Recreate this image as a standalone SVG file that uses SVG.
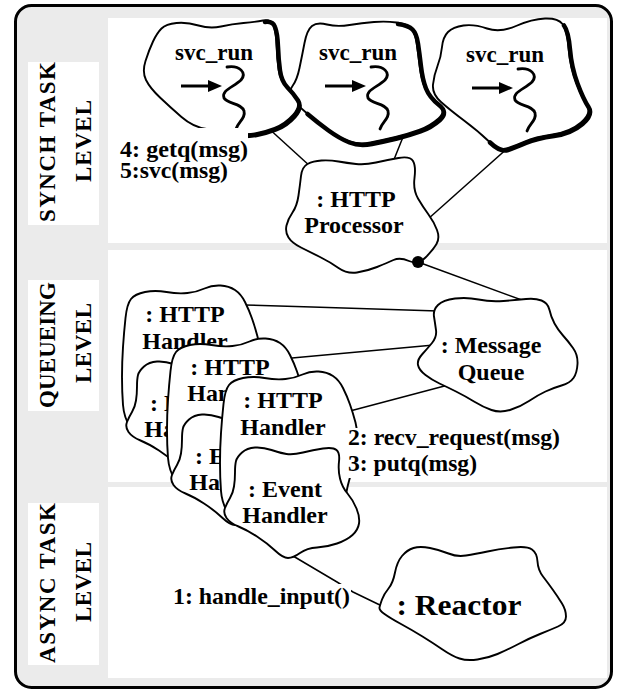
<svg xmlns="http://www.w3.org/2000/svg" xmlns:xlink="http://www.w3.org/1999/xlink" width="618" height="692" viewBox="0 0 618 692">
<style>
.cloud{fill:#fff;stroke:#000;stroke-width:1.9;stroke-linejoin:round}
.shadow{fill:none;stroke:#000;stroke-width:4.5;stroke-linecap:round;stroke-linejoin:round}
.conn{fill:none;stroke:#000;stroke-width:1.5}
.t{font-family:"Liberation Serif","Times New Roman",serif;font-weight:bold;font-size:24px;fill:#000}
.lvl{font-family:"Liberation Serif","Times New Roman",serif;font-weight:bold;font-size:23px;fill:#000}
.panel{fill:#fff}
.bg{fill:#fff}
</style>
<defs>
<g id="svc-inner">
<path d="M227,67 C240,65 247,73 241,80 C234,87 221,90 224,98 C227,104 242,103 244,111 C246,118 238,122 236,129" fill="none" stroke="#000" stroke-width="2.8" stroke-linecap="round"/>
<line x1="181" y1="86" x2="211" y2="86" stroke="#000" stroke-width="3"/>
<polygon points="208,80 222,86 208,92" fill="#000"/>
</g>
<path id="h-outer" class="cloud" d="M-19.5,-4 Q-18,-18 -14,-23 Q-10,-28 0,-30 Q10,-32 21.5,-30 Q33,-28 42.5,-29 Q52,-30 59.5,-33.5 Q67,-37 75.5,-36.5 Q84,-36 90,-32 Q96,-28 100,-20 Q104,-12 107,-3.5 Q110,5 112.5,14.5 Q115,24 114,35 Q113,46 110.5,56 Q108,66 106,73 Q104,80 102,92.5 Q100,105 85,117.5 Q70,130 50,129 Q30,128 11,121.5 Q-8,115 -14.5,105.5 Q-21,96 -22,83 Q-23,70 -23,55 Q-23,40 -22,25 Q-21,10 -19.5,-4 Z"/>
<path id="h-inner" class="cloud" d="M-7,53 Q-6,49 -1,44.5 Q4,40 12,39.5 Q20,39 28.5,42 Q37,45 43.5,46 Q50,47 60,44.5 Q70,42 80,40.5 Q90,39 93.5,42 Q97,45 96,53.5 Q95,62 97,70.5 Q99,79 104.5,85.5 Q110,92 113.5,100.5 Q117,109 116,115.5 Q115,122 109.5,127 Q104,132 94,135.5 Q84,139 74,139.5 Q64,140 57,145 Q50,150 45,150 Q40,150 32,142.5 Q24,135 14,128.5 Q4,122 -4.5,118.5 Q-13,115 -16.5,110 Q-20,105 -18,100 Q-16,95 -13,90 Q-10,85 -9,78.5 Q-8,72 -8,64.5 Q-8,57 -7,53 Z"/>
</defs>

<g id="background">
<rect x="15.5" y="5.5" width="596" height="682" rx="16" fill="#ebebeb" stroke="#000" stroke-width="3"/>
<rect class="panel" x="108" y="18" width="499" height="225"/>
<rect class="panel" x="108" y="250" width="499" height="232"/>
<rect class="panel" x="108" y="487" width="499" height="191"/>
<rect class="panel" x="28" y="62" width="71" height="163"/>
<rect class="panel" x="28" y="280" width="71" height="131"/>
<rect class="panel" x="28" y="503" width="71" height="162"/>
</g>

<g id="level-labels">
<text class="lvl" x="55" y="142" transform="rotate(-90 55 142)" text-anchor="middle" textLength="160" lengthAdjust="spacing">SYNCH TASK</text>
<text class="lvl" x="91" y="141" transform="rotate(-90 91 141)" text-anchor="middle" textLength="82" lengthAdjust="spacing">LEVEL</text>
<text class="lvl" x="55" y="345" transform="rotate(-90 55 345)" text-anchor="middle" textLength="126" lengthAdjust="spacing">QUEUEING</text>
<text class="lvl" x="91" y="343" transform="rotate(-90 91 343)" text-anchor="middle" textLength="80" lengthAdjust="spacing">LEVEL</text>
<text class="lvl" x="55" y="583" transform="rotate(-90 55 583)" text-anchor="middle" textLength="160" lengthAdjust="spacing">ASYNC TASK</text>
<text class="lvl" x="91" y="582" transform="rotate(-90 91 582)" text-anchor="middle" textLength="80" lengthAdjust="spacing">LEVEL</text>
</g>

<g id="connectors">
<line class="conn" x1="266" y1="126" x2="311" y2="167"/>
<line class="conn" x1="405" y1="132" x2="393" y2="162"/>
<line class="conn" x1="510" y1="146" x2="428" y2="219"/>
<line class="conn" x1="418" y1="262" x2="530" y2="303"/>
<polyline class="conn" points="244,305 312,307 438,311"/>
<line class="conn" x1="292" y1="358" x2="434" y2="345"/>
<line class="conn" x1="350" y1="411" x2="452" y2="384"/>
<polyline class="conn" points="288,553 337,582 353,592 384,607"/>
</g>

<g id="svc-run-3">
<path class="cloud" d="M442,47 Q443,37 448,32 Q453,27 463.5,25.5 Q474,24 487,28.5 Q500,33 516,26 Q532,19 545,18.5 Q558,18 562.5,24 Q567,30 568.5,48 Q570,66 576,82 Q582,98 587,105.5 Q592,113 581,122.5 Q570,132 552.5,134.5 Q535,137 524.5,141.5 Q514,146 506.5,148.5 Q499,151 488.5,141 Q478,131 464,120.5 Q450,110 441,102 Q432,94 433,84.5 Q434,75 437.5,66 Q441,57 442,47 Z"/>
<path class="shadow" d="M564,25.5 Q568.5,31.5 570,49.5 Q571.5,67.5 577.5,83.5 Q583.5,99.5 588.5,107 Q593.5,114.5 582.5,124 Q571.5,133.5 554,136 Q536.5,138.5 526,143 Q515.5,147.5 508,150 Q500.5,152.5 490,142.5"/>
<text class="t" x="505" y="62" text-anchor="middle" textLength="78" lengthAdjust="spacingAndGlyphs">svc_run</text>
<use href="#svc-inner" xlink:href="#svc-inner" transform="translate(291,2)"/>
</g>

<g id="svc-run-2">
<path class="cloud" d="M304.5,43 Q307,30 312,26 Q317,22 327,24.5 Q337,27 349.5,25 Q362,23 374,22 Q386,21 396.5,22.5 Q407,24 411,28 Q415,32 416.5,42 Q418,52 419.5,65 Q421,78 424.5,87 Q428,96 437.5,103.5 Q447,111 438.5,118.5 Q430,126 419,130 Q408,134 395.5,137 Q383,140 370.5,142.5 Q358,145 348,141 Q338,137 327,129 Q316,121 306,112.5 Q296,104 292,98 Q288,92 292.5,86 Q297,80 299.5,68 Q302,56 304.5,43 Z"/>
<path class="shadow" d="M398,24 Q408.5,25.5 412.5,29.5 Q416.5,33.5 418,43.5 Q419.5,53.5 421,66.5 Q422.5,79.5 426,88.5 Q429.5,97.5 439,105 Q448.5,112.5 440,120 Q431.5,127.5 420.5,131.5 Q409.5,135.5 397,138.5 Q384.5,141.5 372,144 Q359.5,146.5 349.5,142.5 Q339.5,138.5 328.5,130.5 Q317.5,122.5 307.5,114"/>
<text class="t" x="358" y="60" text-anchor="middle" textLength="78" lengthAdjust="spacingAndGlyphs">svc_run</text>
<use href="#svc-inner" xlink:href="#svc-inner" transform="translate(144,0)"/>
</g>

<g id="svc-run-1">
<path class="cloud" d="M153,41.5 Q157,33 161.5,28.5 Q166,24 176.5,23 Q187,22 198.5,25.5 Q210,29 221,26.5 Q232,24 243.5,23 Q255,22 263,20.5 Q271,19 273.5,25.5 Q276,32 276.5,45 Q277,58 278.5,69 Q280,80 286,86 Q292,92 296.5,99 Q301,106 293,115 Q285,124 274.5,128 Q264,132 255,133.5 Q246,135 233,133 Q220,131 206.5,129 Q193,127 181.5,117 Q170,107 160,97.5 Q150,88 146,80 Q142,72 145.5,61 Q149,50 153,41.5 Z"/>
<path class="shadow" d="M265,22 Q273,21 275,27 Q277.5,33.5 278,46.5 Q278.5,59.5 280,70.5 Q281.5,81.5 287.5,87.5 Q293.5,93.5 298,100.5 Q302.5,107.5 294.5,116.5 Q286.5,125.5 276,129.5 Q265.5,133.5 256.5,135 Q247.5,136.5 240,136"/>
<text class="t" x="214" y="60" text-anchor="middle" textLength="78" lengthAdjust="spacingAndGlyphs">svc_run</text>
<use href="#svc-inner" xlink:href="#svc-inner"/>
</g>

<g id="http-processor">
<path class="cloud" d="M301,176 Q302,167 307.5,164 Q313,161 321.5,160.5 Q330,160 338.5,161.5 Q347,163 356,164 Q365,165 376,162.5 Q387,160 398.5,158 Q410,156 413,161 Q416,166 414.5,178 Q413,190 418,198.5 Q423,207 428.5,214.5 Q434,222 437,230 Q440,238 436.5,244 Q433,250 425.5,257.5 Q418,265 409,261 Q400,257 393.5,260 Q387,263 377,267 Q367,271 357,272.5 Q347,274 338.5,268 Q330,262 320,257 Q310,252 301,247.5 Q292,243 288.5,237.5 Q285,232 286.5,225.5 Q288,219 292.5,212.5 Q297,206 298.5,195.5 Q300,185 301,176 Z"/>
<text class="t" x="356" y="207" text-anchor="middle">: HTTP</text>
<text class="t" x="354" y="233" text-anchor="middle">Processor</text>
</g>

<g id="message-queue">
<path class="cloud" d="M434,316.5 Q433,310 438,305 Q443,300 455,298.5 Q467,297 478.5,299.5 Q490,302 503.5,301 Q517,300 526,299 Q535,298 541.5,300.5 Q548,303 549.5,310 Q551,317 554.5,323.5 Q558,330 563,335.5 Q568,341 573,348 Q578,355 577.5,364 Q577,373 573.5,378 Q570,383 561.5,385.5 Q553,388 545.5,391.5 Q538,395 529,401 Q520,407 510,410 Q500,413 491.5,410 Q483,407 474,401.5 Q465,396 456,391.5 Q447,387 439.5,383.5 Q432,380 425.5,375 Q419,370 418,365 Q417,360 422,354.5 Q427,349 432,343 Q437,337 436,330 Q435,323 434,316.5 Z"/>
<text class="t" x="491" y="353" text-anchor="middle">: Message</text>
<text class="t" x="491" y="380" text-anchor="middle">Queue</text>
</g>

<g id="http-handler-1">
<use href="#h-outer" xlink:href="#h-outer" transform="translate(145,322)"/>
<text class="t" x="185" y="322" text-anchor="middle">: HTTP</text>
<text class="t" x="185" y="349" text-anchor="middle">Handler</text>
<g id="event-handler-1">
<use href="#h-inner" xlink:href="#h-inner" transform="translate(145,322)"/>
<text class="t" x="187" y="411" text-anchor="middle">: Event</text>
<text class="t" x="187" y="437" text-anchor="middle">Handler</text>
</g>
</g>

<g id="http-handler-2">
<use href="#h-outer" xlink:href="#h-outer" transform="translate(190,375)"/>
<text class="t" x="230" y="375" text-anchor="middle">: HTTP</text>
<text class="t" x="230" y="401" text-anchor="middle">Handler</text>
<g id="event-handler-2">
<use href="#h-inner" xlink:href="#h-inner" transform="translate(190,375)"/>
<text class="t" x="232" y="464" text-anchor="middle">: Event</text>
<text class="t" x="232" y="490" text-anchor="middle">Handler</text>
</g>
</g>

<g id="http-handler-3">
<use href="#h-outer" xlink:href="#h-outer" transform="translate(243,408)"/>
<text class="t" x="283" y="408" text-anchor="middle">: HTTP</text>
<text class="t" x="283" y="435" text-anchor="middle">Handler</text>
<g id="event-handler-3">
<use href="#h-inner" xlink:href="#h-inner" transform="translate(243,408)"/>
<text class="t" x="285" y="497" text-anchor="middle">: Event</text>
<text class="t" x="285" y="523" text-anchor="middle">Handler</text>
</g>
</g>

<g id="reactor">
<path class="cloud" d="M379.5,607.5 Q380,605 382,599.5 Q384,594 388.5,588.5 Q393,583 395,572.5 Q397,562 402,556 Q407,550 413.5,548 Q420,546 430,548 Q440,550 448.5,553.5 Q457,557 466,555.5 Q475,554 487.5,551.5 Q500,549 513.5,547.5 Q527,546 532,549.5 Q537,553 537.5,561.5 Q538,570 543,576.5 Q548,583 553,590 Q558,597 562,603.5 Q566,610 566,616.5 Q566,623 558,626.5 Q550,630 540,634 Q530,638 518.5,644 Q507,650 497.5,654 Q488,658 477.5,659.5 Q467,661 459.5,658.5 Q452,656 442.5,649.5 Q433,643 422.5,636.5 Q412,630 401,624 Q390,618 384.5,614 Q379,610 379.5,607.5 Z"/>
<text class="t" x="459" y="615" text-anchor="middle" style="font-size:30px" textLength="125" lengthAdjust="spacingAndGlyphs">: Reactor</text>
</g>

<g id="message-labels">
<rect class="bg" x="117" y="128" width="131" height="56"/>
<text class="t" x="120" y="157" textLength="128" lengthAdjust="spacingAndGlyphs">4: getq(msg)</text>
<text class="t" x="120" y="178" textLength="108" lengthAdjust="spacingAndGlyphs">5:svc(msg)</text>
<rect class="bg" x="345" y="428" width="222" height="50"/>
<text class="t" x="348" y="445" textLength="212" lengthAdjust="spacingAndGlyphs">2: recv_request(msg)</text>
<text class="t" x="348" y="471" textLength="129" lengthAdjust="spacingAndGlyphs">3: putq(msg)</text>
<rect class="bg" x="170" y="584" width="181" height="26"/>
<text class="t" x="173" y="604" textLength="177" lengthAdjust="spacingAndGlyphs">1: handle_input()</text>
</g>

<g id="junction">
<circle cx="418" cy="262" r="6" fill="#000"/>
</g>
</svg>
